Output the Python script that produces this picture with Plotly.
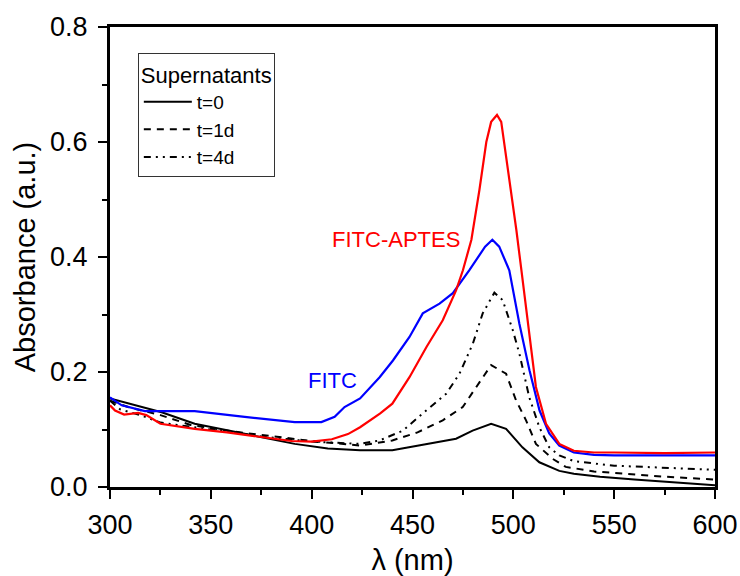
import plotly.graph_objects as go

# FITC-APTES (red)
aptes_x = [300, 302.5, 307, 314, 318, 325, 342, 358, 375, 390, 400, 410, 418, 424, 434, 440, 448.5, 457, 465,
           471.6, 475, 479.2, 483.2, 486.6, 489, 491.9, 494, 496.5, 499, 501.5, 504, 508, 511.2, 516.2, 522.8,
           530, 540, 550, 575, 600]
aptes_y = [0.142, 0.133, 0.126, 0.129, 0.125, 0.110, 0.101, 0.095, 0.087, 0.080, 0.079, 0.083, 0.092, 0.104,
           0.128, 0.145, 0.191, 0.244, 0.290, 0.342, 0.377, 0.43, 0.517, 0.60, 0.635, 0.647, 0.635, 0.574, 0.51,
           0.447, 0.377, 0.261, 0.174, 0.110, 0.075, 0.063, 0.060, 0.060, 0.059, 0.060]

# FITC (blue)
fitc_x = [300, 305.8, 317.3, 342, 366.8, 391.6, 404.8, 411.4, 416.3, 424, 433.7, 440.3, 448.5, 455.1, 463.4,
          470, 478.2, 481.7, 486, 489.6, 493, 498, 503, 508, 513, 517.8, 522.8, 530, 540, 550, 575, 600]
fitc_y = [0.156, 0.142, 0.132, 0.132, 0.122, 0.113, 0.113, 0.122, 0.139, 0.154, 0.191, 0.220, 0.261, 0.302,
          0.319, 0.337, 0.377, 0.395, 0.418, 0.430, 0.418, 0.377, 0.284, 0.203, 0.133, 0.093, 0.072, 0.060,
          0.056, 0.055, 0.055, 0.055]

# Supernatants t=0
t0_x = [300, 312.4, 325.6, 342, 358.6, 375, 391.6, 408, 424, 440, 456.8, 471.6, 479.8, 489, 496.4, 504.5,
        512.9, 522.8, 530, 543, 560, 580, 600]
t0_y = [0.154, 0.142, 0.130, 0.110, 0.098, 0.087, 0.075, 0.067, 0.064, 0.064, 0.075, 0.084, 0.098, 0.110,
        0.101, 0.069, 0.043, 0.028, 0.023, 0.018, 0.013, 0.008, 0.003]

# Supernatants t=1d
t1_x = [300, 310, 325, 340, 360, 380, 400, 424, 440, 452.5, 465, 474.9, 481.5, 489, 496.4, 501.3, 506.3,
        511.2, 519.5, 526, 540, 551, 575, 600]
t1_y = [0.150, 0.138, 0.125, 0.108, 0.097, 0.088, 0.080, 0.072, 0.081, 0.095, 0.116, 0.139, 0.174, 0.212,
        0.197, 0.151, 0.116, 0.075, 0.049, 0.035, 0.027, 0.024, 0.018, 0.013]

# Supernatants t=4d
t4_x = [300, 305, 315, 325, 350, 375, 400, 424, 433.7, 445.2, 456.8, 466.7, 473.3, 479.9, 484.8, 490.6,
        494.7, 499.7, 503, 507.9, 512.9, 517.8, 522.8, 530, 550, 575, 600]
t4_y = [0.150, 0.135, 0.125, 0.112, 0.100, 0.088, 0.079, 0.075, 0.081, 0.098, 0.133, 0.162, 0.197, 0.249,
        0.302, 0.338, 0.325, 0.273, 0.232, 0.156, 0.104, 0.069, 0.055, 0.045, 0.037, 0.033, 0.030]

x_ticks = [300, 350, 400, 450, 500, 550, 600]
y_ticks = [0.0, 0.2, 0.4, 0.6, 0.8]

FONT = "Liberation Sans, Arial, sans-serif"

fig = go.Figure()
fig.add_trace(go.Scatter(x=t0_x, y=t0_y, mode="lines", name="t=0",
                         line=dict(color="black", width=2, dash="solid")))
fig.add_trace(go.Scatter(x=t1_x, y=t1_y, mode="lines", name="t=1d",
                         line=dict(color="black", width=2, dash="7px,6px")))
fig.add_trace(go.Scatter(x=t4_x, y=t4_y, mode="lines", name="t=4d",
                         line=dict(color="black", width=2, dash="7px,5px,2px,5px,2px,5px")))
fig.add_trace(go.Scatter(x=fitc_x, y=fitc_y, mode="lines", name="FITC", showlegend=False,
                         line=dict(color="#0000ff", width=2.2)))
fig.add_trace(go.Scatter(x=aptes_x, y=aptes_y, mode="lines", name="FITC-APTES", showlegend=False,
                         line=dict(color="#ff0000", width=2.2)))

fig.add_annotation(x=442, y=0.431, xref="x", yref="y", text="FITC-APTES", showarrow=False,
                   font=dict(family=FONT, size=22, color="#ff0000"))
fig.add_annotation(x=410.5, y=0.186, xref="x", yref="y", text="FITC", showarrow=False,
                   font=dict(family=FONT, size=22, color="#0000ff"))

axis_common = dict(showline=True, linecolor="black", linewidth=3, mirror=True, showgrid=False,
                   zeroline=False, ticks="outside", ticklen=9, tickwidth=2, tickcolor="black",
                   automargin=False,
                   tickfont=dict(family=FONT, size=27, color="black"))

fig.update_xaxes(range=[300, 600], tickvals=x_ticks, ticktext=[str(v) for v in x_ticks],
                 minor=dict(ticks="outside", ticklen=5, tickwidth=2, tickcolor="black", dtick=25),
                 ticklabelstandoff=3,
                 title=dict(text="λ (nm)", font=dict(family=FONT, size=29, color="black"), standoff=18),
                 **axis_common)
fig.update_yaxes(range=[0, 0.8], tickvals=y_ticks, ticktext=["%.1f" % v for v in y_ticks],
                 minor=dict(ticks="outside", ticklen=5, tickwidth=2, tickcolor="black", dtick=0.1),
                 ticklabelstandoff=5,
                 title=dict(text="Absorbance (a.u.)", font=dict(family=FONT, size=29, color="black"), standoff=6),
                 **axis_common)

fig.update_layout(
    width=740, height=576,
    margin=dict(l=110, r=25, t=27, b=89),
    plot_bgcolor="white", paper_bgcolor="white",
    legend=dict(title=dict(text="Supernatants", font=dict(family=FONT, size=22, color="black")),
                font=dict(family=FONT, size=19, color="black"),
                x=0.046, y=0.943, xanchor="left", yanchor="top",
                bordercolor="#333333", borderwidth=1, bgcolor="white",
                tracegroupgap=0, itemwidth=48),
)

fig.write_html("out.html", config={"displayModeBar": False},
               post_script="document.body.style.margin='0';document.body.style.overflow='hidden';")
